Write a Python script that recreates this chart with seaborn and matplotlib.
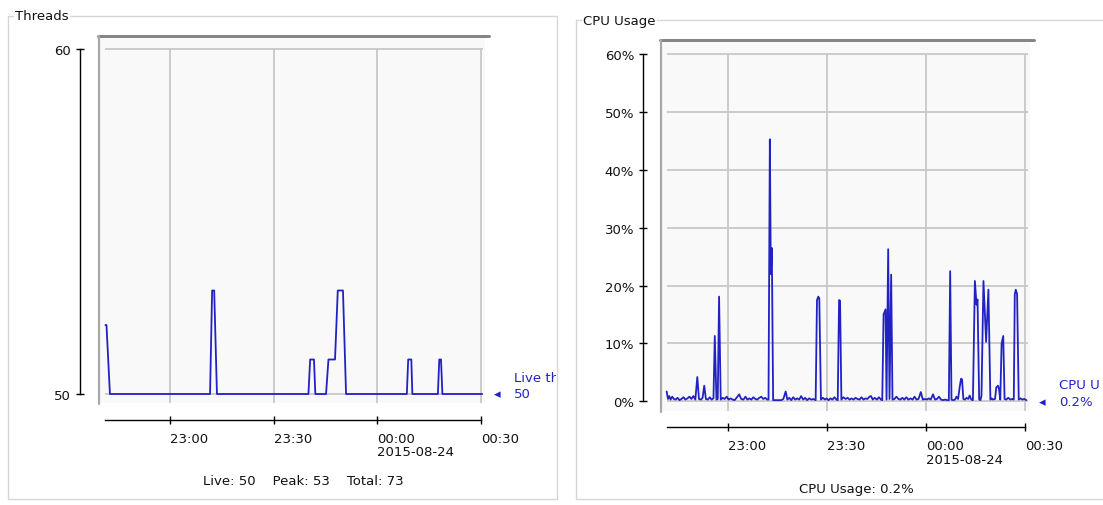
import pandas as pd
import matplotlib
matplotlib.use("Agg")
import matplotlib.pyplot as plt
import matplotlib.dates as mdates
from matplotlib.lines import Line2D
from matplotlib.transforms import Bbox
import seaborn as sns

# ---------------------------------------------------------------- data
BASE_TIME = pd.Timestamp("2015-08-23 23:00")

tick_minutes = [0, 30, 60, 90]
tick_labels = ["23:00", "23:30", "00:00\n2015-08-24", "00:30"]

# live thread count, minutes relative to 23:00
thread_minutes = [-18.7, -18.4, -17.4, 11.6, 12.2, 12.8, 13.6, 40.1, 40.6, 41.7,
                  42.1, 45.2, 45.9, 47.8, 48.6, 50.1, 51.0, 68.6, 69.0, 69.9,
                  70.2, 77.6, 78.0, 78.5, 78.9, 90.4]
thread_counts = [52, 52, 50, 50, 53, 53, 50, 50, 51, 51,
                 50, 50, 51, 51, 53, 53, 50, 50, 51, 51,
                 50, 50, 51, 51, 50, 50]
threads_total_started = 73
thread_yticks = [50, 60]

# process CPU usage (%), minutes relative to 23:00
cpu_minutes = [
    -18.7, -18.3, -17.9, -17.5, -17.0, -16.5, -16.0, -15.4, -14.8, -14.2,
    -13.6, -13.0, -12.4, -11.8, -11.2, -10.6, -10.0, -9.4, -8.9, -8.3,
    -7.8, -7.3, -6.8, -6.2, -5.6, -5.1, -4.5, -4.1, -3.6, -3.2,
    -2.8, -2.3, -1.7, -1.1, -0.5, 0.1, 0.7, 1.3, 1.9, 2.5,
    3.3, 3.9, 4.6, 5.2, 5.8, 6.4, 7.0, 7.6, 8.2, 8.8,
    9.4, 10.0, 10.6, 11.2, 11.8, 12.2, 12.6, 12.9, 13.2, 13.6,
    14.2, 14.8, 15.5, 16.1, 16.7, 17.4, 17.9, 18.5, 19.1, 19.7,
    20.3, 20.9, 21.5, 22.1, 22.7, 23.3, 23.9, 24.5, 25.2, 25.8,
    26.5, 26.9, 27.3, 27.6, 28.1, 28.7, 29.3, 29.8, 30.4, 31.0,
    31.6, 32.2, 32.8, 33.2, 33.6, 33.9, 34.3, 34.9, 35.6, 36.2,
    36.8, 37.4, 38.0, 38.6, 39.2, 39.8, 40.4, 41.0, 41.6, 42.2,
    42.8, 43.3, 43.8, 44.4, 45.1, 45.7, 46.3, 46.7, 47.1, 47.7,
    48.0, 48.5, 48.9, 49.4, 49.8, 50.4, 51.0, 51.6, 52.2, 52.8,
    53.4, 54.0, 54.6, 55.3, 55.9, 56.5, 57.1, 57.7, 58.4, 59.0,
    59.6, 60.2, 60.8, 61.4, 62.1, 62.7, 63.3, 63.9, 64.5, 65.2,
    65.8, 66.4, 66.9, 67.3, 67.7, 68.2, 68.8, 69.2, 69.7, 70.2,
    70.6, 70.9, 71.3, 71.8, 72.3, 72.8, 73.2, 73.7, 74.2, 74.8,
    75.3, 75.6, 76.1, 76.5, 76.8, 77.4, 78.2, 78.9, 79.5, 79.9,
    80.3, 80.9, 81.3, 81.8, 82.1, 82.5, 82.9, 83.4, 83.8, 84.3,
    84.9, 85.6, 86.2, 86.6, 86.9, 87.2, 87.6, 88.1, 88.6, 89.2,
    89.8, 90.4]
cpu_percent = [
    1.7, 0.4, 0.9, 0.3, 0.8, 0.4, 0.3, 0.6, 0.2, 0.4,
    0.7, 0.3, 0.5, 0.8, 0.4, 0.9, 0.3, 4.2, 0.4, 0.3,
    0.6, 2.7, 0.4, 0.3, 0.7, 0.3, 0.5, 11.3, 0.3, 0.4,
    18.1, 0.3, 0.6, 0.4, 0.8, 0.3, 0.5, 0.3, 0.2, 0.6,
    1.2, 0.4, 0.3, 0.8, 0.3, 0.5, 0.3, 0.7, 0.4, 0.3,
    0.6, 0.8, 0.4, 0.6, 0.3, 0.3, 45.3, 22.0, 26.5, 0.2,
    0.2, 0.2, 0.2, 0.2, 0.4, 1.7, 0.3, 0.6, 0.2, 0.7,
    0.3, 0.5, 0.3, 0.9, 0.3, 0.6, 0.2, 0.5, 0.3, 0.4,
    0.2, 17.5, 18.1, 17.8, 0.3, 0.6, 0.3, 0.5, 0.2, 0.5,
    0.3, 0.7, 0.3, 0.2, 17.5, 17.4, 0.3, 0.7, 0.4, 0.6,
    0.3, 0.5, 0.3, 0.6, 0.4, 0.3, 0.7, 0.3, 0.5, 0.4,
    0.8, 0.9, 0.3, 0.6, 0.3, 0.7, 0.3, 0.2, 15.0, 15.9,
    0.3, 26.3, 0.4, 21.9, 0.3, 0.4, 0.8, 0.4, 0.3, 0.6,
    0.3, 0.7, 0.3, 0.5, 0.3, 0.8, 0.3, 0.4, 1.6, 0.3,
    0.4, 0.3, 0.5, 0.3, 1.2, 0.3, 0.4, 0.8, 0.3, 0.2,
    0.3, 0.2, 0.2, 22.5, 0.3, 0.2, 0.3, 0.8, 0.4, 2.5,
    3.9, 3.8, 0.4, 0.3, 0.6, 0.4, 1.0, 0.3, 0.2, 20.8,
    16.7, 17.6, 0.3, 0.2, 1.0, 20.8, 10.3, 19.3, 0.3, 0.5,
    0.3, 0.4, 2.4, 2.7, 2.2, 0.3, 10.0, 11.3, 0.4, 0.3,
    0.6, 0.3, 0.4, 0.3, 18.5, 19.3, 18.5, 0.3, 0.5, 0.3,
    0.4, 0.2]
cpu_yticks = [0, 10, 20, 30, 40, 50, 60]

# ---------------------------------------------------------------- style
sns.set_theme(style="white")
plt.rcParams["font.family"] = ["DejaVu Sans"]
FONT = 9.5
LINE = "#2222c4"
GRID = "#c8c8c8"
BOX = "#d6d6d6"
PLOT_BG = "#f9f9f9"

W, H = 1103, 506
fig = plt.figure(figsize=(W / 100, H / 100), dpi=100)
fig.patch.set_facecolor("white")


def rect(x0, y0, x1, y1):
    return [x0 / W, 1 - y1 / H, (x1 - x0) / W, (y1 - y0) / H]


def fig_line(xs, ys, **kw):
    fig.add_artist(Line2D([x / W for x in xs], [1 - y / H for y in ys],
                          transform=fig.transFigure, **kw))


def fig_text(x, y, s, **kw):
    return fig.text(x / W, 1 - y / H, s, fontsize=FONT, **kw)


def to_num(minutes):
    return mdates.date2num(BASE_TIME + pd.Timedelta(minutes=minutes))


def px(n):
    return n * 72 / 100


def chart(df, col, yticks, fmt, box, title, bg, t_px, v_py, yaxis_x, xaxis_y,
          legend_name, legend_value, legend_px, summary, summary_xy):
    bx0, by0, bx1, by1 = box
    # titled group box
    fig_line([bx0, bx1], [by0, by0], color=BOX, lw=1.0)
    fig_line([bx0, bx0], [by0, by1], color=BOX, lw=1.0)
    fig_line([bx0, bx1], [by1, by1], color=BOX, lw=1.0)
    if bx1 < W:
        fig_line([bx1, bx1], [by0, by1], color=BOX, lw=1.0)
    fig_text(bx0 + 7, by0, title, ha="left", va="center", color="#111111",
             bbox=dict(facecolor="white", edgecolor="none", pad=1.0))

    # scale mapping between pixels and data
    ppm = (t_px[1] - t_px[0]) / (tick_minutes[-1] - tick_minutes[0])
    x_lo = tick_minutes[0] + (bg[0] - t_px[0]) / ppm
    x_hi = tick_minutes[0] + (bg[2] - t_px[0]) / ppm
    ppv = (v_py[0] - v_py[1]) / (yticks[-1] - yticks[0])
    y_lo = yticks[0] - (bg[3] - v_py[0]) / ppv
    y_hi = yticks[0] + (v_py[0] - bg[1]) / ppv

    # plot body
    ax = fig.add_axes(rect(*bg))
    sns.lineplot(data=df, x="time", y=col, ax=ax, color=LINE, lw=1.3,
                 estimator=None, zorder=3)
    ax.set_xlim(to_num(x_lo), to_num(x_hi))
    ax.set_ylim(y_lo, y_hi)
    ax.set_facecolor(PLOT_BG)
    for s in ax.spines.values():
        s.set_visible(False)
    ax.set_xticks([])
    ax.set_yticks([])
    ax.set_xlabel("")
    ax.set_ylabel("")
    first = df["time"].iloc[0]
    ax.hlines(yticks, mdates.date2num(first), to_num(tick_minutes[-1] + 0.8),
              colors=GRID, lw=1.3, zorder=1)
    ax.vlines([to_num(m) for m in tick_minutes], y_lo, yticks[-1],
              colors=GRID, lw=1.3, zorder=1)

    # bevelled frame edges
    fig_line([bg[0] - 2, bg[2] + 4], [bg[1] - 2, bg[1] - 2], color="#858585", lw=px(3))
    fig_line([bg[0] - 1, bg[0] - 1], [bg[1] - 2, bg[3] + 1], color="#a8a8a8", lw=px(2.2))

    # value axis
    yax = fig.add_axes(rect(yaxis_x, bg[1], yaxis_x + 10, bg[3]))
    yax.patch.set_visible(False)
    yax.set_ylim(y_lo, y_hi)
    for name, s in yax.spines.items():
        s.set_visible(name == "left")
    yax.spines["left"].set_color("black")
    yax.spines["left"].set_linewidth(px(1.4))
    yax.spines["left"].set_bounds(yticks[0], yticks[-1])
    yax.set_xticks([])
    yax.set_yticks(yticks)
    yax.set_yticklabels([fmt(v) for v in yticks], fontsize=FONT)
    yax.tick_params(axis="y", left=True, direction="inout", length=px(8),
                    width=px(1.4), color="black", pad=px(5), labelcolor="#111111")

    # time axis
    xax = fig.add_axes(rect(bg[0], xaxis_y - 10, bg[2], xaxis_y))
    xax.patch.set_visible(False)
    xax.set_xlim(to_num(x_lo), to_num(x_hi))
    for name, s in xax.spines.items():
        s.set_visible(name == "bottom")
    xax.spines["bottom"].set_color("black")
    xax.spines["bottom"].set_linewidth(px(1.4))
    xax.spines["bottom"].set_bounds(mdates.date2num(first), to_num(tick_minutes[-1]))
    xax.set_yticks([])
    xax.set_xticks([to_num(m) for m in tick_minutes])
    xax.set_xticklabels(tick_labels, fontsize=FONT, linespacing=1.05)
    for lbl in xax.get_xticklabels():
        lbl.set_horizontalalignment("left")
    xax.tick_params(axis="x", bottom=True, direction="inout", length=px(8),
                    width=px(1.4), color="black", pad=px(8), labelcolor="#111111")

    # current-value marker on the right, clipped by the group box
    lx, ly = legend_px
    clip = Bbox([[0, 0], [min(bx1, W) - 1, H]])
    fig_text(lx, ly, "\u25C2", ha="center", va="center", color=LINE)
    for dy, s in ((-17, legend_name), (0, legend_value)):
        t = fig_text(lx + 17, ly + dy, s, ha="left", va="center", color=LINE)
        t.set_clip_box(clip)
        t.set_clip_on(True)

    fig_text(summary_xy[0], summary_xy[1], summary, ha="center", va="center",
             color="#111111")


threads = pd.DataFrame({
    "time": [BASE_TIME + pd.Timedelta(minutes=m) for m in thread_minutes],
    "live": thread_counts,
})
cpu = pd.DataFrame({
    "time": [BASE_TIME + pd.Timedelta(minutes=m) for m in cpu_minutes],
    "usage": cpu_percent,
})

live_now = thread_counts[-1]
peak = max(thread_counts)
cpu_now = cpu_percent[-1]

chart(threads, "live", thread_yticks, lambda v: f"{v}",
      box=(8, 17, 557, 500), title="Threads",
      bg=(100, 39, 485, 404), t_px=(170, 480.7), v_py=(395, 50),
      yaxis_x=80, xaxis_y=420.7,
      legend_name="Live thr", legend_value=f"{live_now}",
      legend_px=(497, 395),
      summary=f"Live: {live_now}    Peak: {peak}    Total: {threads_total_started}",
      summary_xy=(303, 481.5))

chart(cpu, "usage", cpu_yticks, lambda v: f"{v}%",
      box=(576, 21, 1110, 500), title="CPU Usage",
      bg=(662, 43, 1030, 412), t_px=(728.3, 1025), v_py=(402.3, 55.3),
      yaxis_x=643, xaxis_y=428.3,
      legend_name="CPU U", legend_value=f"{cpu_now}%",
      legend_px=(1042, 402.3),
      summary=f"CPU Usage: {cpu_now}%",
      summary_xy=(856, 490))

fig.savefig("out.png", dpi=100, facecolor="white")
